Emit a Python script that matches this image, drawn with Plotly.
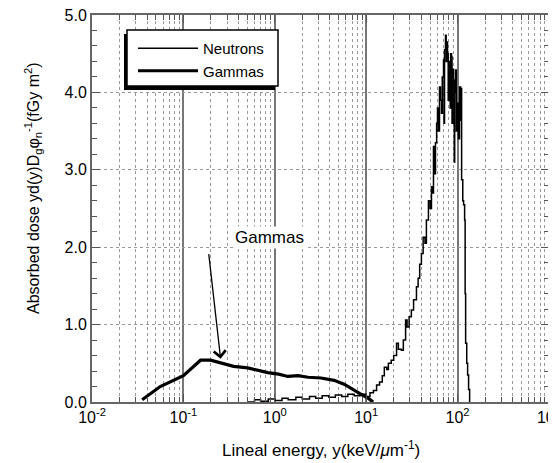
import plotly.graph_objects as go

# Neutrons: lineal energy (keV/um) and yd(y) dose values
neut_x = [0.5, 0.6, 0.7, 0.85, 1.0, 1.2, 1.4, 1.7, 2.0, 2.4, 2.8, 3.3, 3.9, 4.6, 5.4, 6.3, 7.4, 8.6,
          10, 11, 12, 13, 14, 15, 15.8, 16.8, 17.5, 18.8, 20, 21.5, 22.5, 24.3, 25.5, 27, 28, 29.5,
          31.2, 33, 35.5, 37, 38.5, 40.2, 42, 44, 45.6, 48, 50, 51.8, 53, 54.5, 55.5, 57.3, 59, 60.3,
          61.5, 63.4, 65, 66.7, 68, 70.2, 71, 72, 73.8, 75, 76, 77.6, 79, 80, 81.6, 83, 84, 85.9, 87,
          88.5, 90.4, 92, 93, 95.1, 97, 100, 102, 105, 108, 109, 110.7, 114, 116.4, 119.4, 121,
          122.5, 126, 128.8, 132, 135.5]
neut_y = [0.0, 0.03, 0.01, 0.04, 0.02, 0.05, 0.03, 0.06, 0.04, 0.07, 0.05, 0.08, 0.06, 0.09, 0.07, 0.1, 0.08, 0.1,
          0.07, 0.12, 0.15, 0.22, 0.26, 0.34, 0.45, 0.42, 0.5, 0.54, 0.6, 0.76, 0.68, 0.67, 0.8, 1.06, 0.97, 1.1,
          1.19, 1.32, 1.49, 1.6, 1.78, 1.92, 2.13, 2.05, 2.35, 2.6, 2.5, 2.78, 2.7, 3.3, 2.95, 3.35, 3.6, 3.8,
          3.5, 4.07, 3.9, 3.73, 4.2, 4.42, 3.6, 4.55, 4.74, 4.4, 4.65, 4.5, 3.9, 4.4, 4.33, 3.8, 4.5, 4.46, 3.6,
          4.3, 4.16, 3.1, 4.0, 4.29, 3.5, 3.86, 3.4, 4.07, 3.64, 4.05, 2.87, 2.6, 2.55, 2.35, 1.4,
          0.76, 0.5, 0.35, 0.16, 0.0]

# Gammas
gam_x = [0.0354, 0.0558, 0.1, 0.154, 0.198, 0.26, 0.354, 0.505, 0.65, 0.838, 1.1, 1.39, 1.8, 2.31,
         3.2, 4.45, 5.73, 7.38, 8.81, 10.5, 11.9]
gam_y = [0.03, 0.2, 0.34, 0.54, 0.54, 0.5, 0.46, 0.44, 0.41, 0.38, 0.36, 0.33, 0.34, 0.32,
         0.31, 0.28, 0.23, 0.16, 0.1, 0.05, 0.0]

x_tickvals = [0.01, 0.1, 1, 10, 100, 1000]
x_ticktext = ["10<sup>-2</sup>", "10<sup>-1</sup>", "10<sup>0</sup>", "10<sup>1</sup>", "10<sup>2</sup>", "10<sup>3</sup>"]
y_tickvals = [0, 1, 2, 3, 4, 5]
y_ticktext = ["0.0", "1.0", "2.0", "3.0", "4.0", "5.0"]

FONT = "Liberation Sans, Arial, sans-serif"

fig = go.Figure()
fig.add_trace(go.Scatter(x=neut_x, y=neut_y, mode="lines", name="Neutrons",
                         line=dict(color="black", width=1.5, shape="hv")))
fig.add_trace(go.Scatter(x=gam_x, y=gam_y, mode="lines", name="Gammas",
                         line=dict(color="black", width=3.2)))

# the page body adds an 8px margin; the figure is sized/placed so the plot lands as in the reference
OFF = 8
W, H = 548, 455
L, R, T, B = 84, 7, 7, 61
pw, ph = W - L - R, H - T - B

def wp(x, y):
    """window pixel -> paper coords"""
    return (x - OFF - L) / pw, (H - B - (y - OFF)) / ph

# legend frame with drop shadow (offset down-left)
sx0, sy1 = wp(124, 34)
sx1, sy0 = wp(275, 90)
fig.add_shape(type="rect", xref="paper", yref="paper", x0=sx0, x1=sx1, y0=sy0, y1=sy1,
              fillcolor="black", line=dict(width=0), layer="above")
fx0, fy1 = wp(127, 30)
fx1, fy0 = wp(278, 86)
fig.add_shape(type="rect", xref="paper", yref="paper", x0=fx0, x1=fx1, y0=fy0, y1=fy1,
              fillcolor="white", line=dict(color="black", width=1.5), layer="above")

lx, ly = wp(133, 32)
fig.update_layout(
    width=W, height=H,
    margin=dict(l=L, r=R, t=T, b=B),
    paper_bgcolor="white", plot_bgcolor="white",
    font=dict(family=FONT, size=16, color="black"),
    showlegend=True,
    legend=dict(x=lx, y=ly, xanchor="left", yanchor="top", bgcolor="rgba(0,0,0,0)",
                borderwidth=0, font=dict(size=15), itemwidth=60, tracegroupgap=0),
    xaxis=dict(type="log", range=[-2, 3.0004], tickvals=x_tickvals, ticktext=x_ticktext,
               ticks="inside", ticklen=8, tickcolor="#555", mirror="allticks",
               showline=True, linecolor="#666", linewidth=2,
               showgrid=True, gridcolor="#777", gridwidth=1.5,
               minor=dict(dtick="D1", ticks="inside", ticklen=5, tickcolor="#555",
                          showgrid=True, gridcolor="#999", griddash="dot", gridwidth=1.2),
               tickfont=dict(size=16), zeroline=False, ticklabeloverflow="allow",
               automargin=False),
    yaxis=dict(range=[0, 5.0002], tickvals=y_tickvals, ticktext=y_ticktext,
               ticks="inside", ticklen=8, tickcolor="#555", mirror="allticks",
               showline=True, linecolor="#666", linewidth=2,
               showgrid=True, gridcolor="#999", griddash="dot", gridwidth=1.2,
               minor=dict(dtick=0.2, ticks="inside", ticklen=5, tickcolor="#555", showgrid=False),
               tickfont=dict(size=16), zeroline=False, ticklabeloverflow="allow",
               automargin=False),
)

# axis titles
tx, ty = wp(321, 449)
fig.add_annotation(xref="paper", yref="paper", x=tx, y=ty,
                   text="Lineal energy, y(keV/<i>μ</i>m<sup>-1</sup>)", showarrow=False,
                   font=dict(size=17), xanchor="center", yanchor="middle")
tx, ty = wp(33, 188)
fig.add_annotation(xref="paper", yref="paper", x=tx, y=ty,
                   text="Absorbed dose yd(y)D<sub>g</sub>φ<sub>n</sub><sup>-1</sup>(fGy m<sup>2</sup>)",
                   showarrow=False, textangle=-90, font=dict(size=16),
                   xanchor="center", yanchor="middle")

# Gammas callout
tx, ty = wp(233, 237)
fig.add_annotation(xref="paper", yref="paper", x=tx, y=ty,
                   text="Gammas", showarrow=False, bgcolor="white", font=dict(size=17))
fig.add_annotation(x=-0.593, y=0.56, xref="x", yref="y", text="", showarrow=True,
                   ax=-12, ay=-106, arrowhead=4, arrowsize=1.8, arrowwidth=1.3, arrowcolor="black")

fig.write_html("out.html")
